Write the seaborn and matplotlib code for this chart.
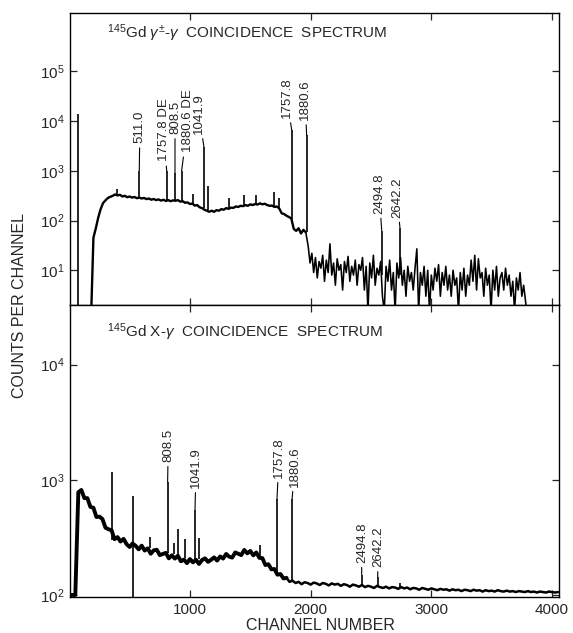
import numpy as np
import pandas as pd
import matplotlib
matplotlib.use("Agg")
import matplotlib.pyplot as plt
from matplotlib.ticker import NullLocator, FixedLocator
import seaborn as sns

# ---------------- data ----------------
# Top panel: gamma(+/-)-gamma coincidence spectrum
top_plateau_start = 180
top_plateau_step = 20
top_plateau_counts = [
    1, 45, 70, 115, 170, 225, 255, 285, 300, 315,
    335, 320, 330, 305, 315, 295, 305, 290, 298, 282,
    290, 278, 285, 270, 278, 262, 272, 258, 266, 252,
    262, 248, 258, 245, 255, 250, 258, 240, 245, 228,
    232, 215, 220, 200, 205, 185, 178, 165, 158, 150,
    158, 150, 162, 158, 170, 165, 178, 172, 182, 180,
    192, 188, 198, 195, 205, 198, 212, 205, 215, 210,
    222, 212, 218, 205, 198, 200, 188, 192, 175, 140,
    135, 125, 118, 110, 68, 62, 70, 55, 65, 58]
top_noise_start = 1980
top_noise_step = 15
top_noise_counts = [
    30, 14, 22, 9, 18, 7, 15, 11, 20, 6,
    16, 9, 34, 8, 14, 5, 17, 10, 13, 4,
    15, 9, 19, 6, 12, 8, 16, 5, 13, 10,
    18, 4, 12, 1.5, 14, 7, 20, 5, 11, 8,
    15, 3, 1.5, 12, 6, 16, 4, 9, 1.5, 14,
    7, 18, 5, 10, 3, 12, 6, 9, 4, 11,
    27, 1.5, 9, 5, 12, 3, 10, 1.5, 8, 4,
    11, 6, 13, 3, 9, 5, 12, 4, 8, 3,
    10, 5, 7, 1.5, 9, 4, 11, 3, 8, 5,
    16, 6, 20, 4, 17, 7, 9, 3, 11, 5,
    8, 1.5, 10, 4, 12, 3, 7, 9, 4, 11,
    5, 8, 3, 6, 1.5, 7, 4, 9, 3, 5,
    2.5, 1.0]
top_tail_ch = [3810, 4060]
top_tail_counts = [1, 1]

top_peak_ch = [70, 395, 580, 807, 876, 931, 1023, 1116, 1150, 1323, 1447,
               1550, 1697, 1740, 1843, 1967, 2589, 2740]
top_peak_top = [14000, 440, 1000, 1000, 900, 1000, 350, 3000, 500, 280, 330,
                320, 370, 280, 6600, 5200, 63, 72]
top_peak_base = [1, 320, 285, 250, 250, 245, 215, 175, 160, 175, 195,
                 210, 190, 175, 110, 58, 8, 8]

top_labels = ["511.0", "1757.8 DE", "808.5", "1880.6 DE", "1041.9",
              "1757.8", "1880.6", "2494.8", "2642.2"]
top_label_peak = [2, 3, 4, 5, 7, 14, 15, 16, 17]
top_label_ch = [585, 785, 876, 984, 1075, 1804, 1953, 2567, 2715]
top_label_y = [3600, 1550, 5500, 2360, 5500, 11500, 10500, 138, 115]

# Bottom panel: X-gamma coincidence spectrum
bot_start = 0
bot_step = 25
bot_counts = [
    100, 100, 100, 780, 816, 694, 693, 582, 572, 475,
    479, 456, 384, 372, 365, 305, 318, 291, 307, 276,
    261, 280, 267, 249, 268, 243, 254, 228, 244, 247,
    222, 227, 232, 208, 221, 207, 219, 196, 203, 189,
    205, 192, 202, 186, 201, 208, 194, 202, 212, 199,
    216, 207, 227, 215, 211, 234, 228, 222, 246, 230,
    241, 221, 234, 210, 209, 182, 185, 167, 168, 150,
    152, 139, 141, 130, 133, 127, 130,
    124, 129, 127, 123, 128, 126, 122, 127, 125, 121,
    126, 123, 125, 120, 124, 122, 118, 123, 121, 118,
    122, 117, 120, 118, 115, 120, 117, 115, 118, 114,
    117, 116, 113, 117, 114, 116, 112, 115, 114, 111,
    115, 113, 111, 114, 112, 110, 113, 111, 112, 109,
    112, 110, 111, 108, 111, 110, 108, 111, 109, 110,
    107, 110, 108, 109, 107, 110, 108, 107, 109, 107,
    108, 106, 108, 107, 106, 108, 106, 107, 105, 107,
    106, 105, 107, 106, 105, 106]
bot_thick_until = 1800   # noisier (thicker) part of the trace

bot_peak_ch = [351, 531, 669, 815, 868, 903, 959, 1042, 1075, 1580, 1721,
               1846, 2423, 2556, 2740]
bot_peak_top = [1170, 725, 320, 950, 283, 375, 307, 550, 313, 270, 680,
                680, 150, 143, 127]
bot_peak_base = [300, 90, 255, 230, 225, 220, 210, 205, 205, 220, 150,
                 130, 120, 118, 114]

bot_labels = ["808.5", "1041.9", "1757.8", "1880.6", "2494.8", "2642.2"]
bot_label_peak = [3, 7, 10, 11, 12, 13]
bot_label_ch = [820, 1050, 1738, 1870, 2425, 2558]
bot_label_y = [1435, 850, 1040, 870, 190, 175]

x_ticks = [1000, 2000, 3000, 4000]
top_y_ticks = [1e1, 1e2, 1e3, 1e4, 1e5]
bot_y_ticks = [1e2, 1e3, 1e4]

top_title = r"$^{145}$Gd $\gamma^{\pm}$-$\gamma$  COINCIDENCE  SPECTRUM"
bot_title = r"$^{145}$Gd X-$\gamma$  COINCIDENCE  SPECTRUM"

# ---------------- build tables ----------------
top_plateau_df = pd.DataFrame({
    "channel": top_plateau_start + top_plateau_step * np.arange(len(top_plateau_counts)),
    "counts": np.array(top_plateau_counts, dtype=float)})
top_noise_df = pd.DataFrame({
    "channel": np.concatenate([
        [top_plateau_start + top_plateau_step * (len(top_plateau_counts) - 1)],
        top_noise_start + top_noise_step * np.arange(len(top_noise_counts)),
        np.array(top_tail_ch)]),
    "counts": np.concatenate([[top_plateau_counts[-1]], top_noise_counts,
                              top_tail_counts])})
bot_df = pd.DataFrame({
    "channel": bot_start + bot_step * np.arange(len(bot_counts)),
    "counts": np.array(bot_counts, dtype=float),
})
bot_a = bot_df[bot_df.channel <= bot_thick_until]
bot_b = bot_df[bot_df.channel >= bot_thick_until]

# ---------------- style ----------------
sns.set_style("ticks")
plt.rcParams['font.family'] = ['Liberation Sans', 'DejaVu Sans']
plt.rcParams['mathtext.fontset'] = 'custom'
plt.rcParams['mathtext.rm'] = 'Liberation Sans'
plt.rcParams['mathtext.it'] = 'Liberation Sans:italic'
plt.rcParams['mathtext.bf'] = 'Liberation Sans:bold'
plt.rcParams['axes.linewidth'] = 1.0

W, H = 573, 633
fig = plt.figure(figsize=(W / 100, H / 100), dpi=100)
ax1 = fig.add_axes([70 / W, 1 - 305 / H, 489 / W, 292 / H])
ax2 = fig.add_axes([70 / W, 1 - 597 / H, 489 / W, 292 / H], sharex=ax1)

def draw(ax, segments, pch, ptop, pbase, labels, lpeak, lch, ly):
    for df, lw in segments:
        sns.lineplot(data=df, x="channel", y="counts", ax=ax, color="black",
                     lw=lw, estimator=None, sort=False)
    ax.vlines(pch, pbase, ptop, color="black", lw=1.2)
    for txt, i, cx, cy in zip(labels, lpeak, lch, ly):
        ax.annotate(txt, xy=(pch[i], ptop[i]), xytext=(cx, cy),
                    rotation=90, ha="center", va="bottom", fontsize=9.5,
                    arrowprops=dict(arrowstyle="-", lw=0.8, color="black",
                                    shrinkA=1, shrinkB=0))
    ax.set_yscale("log")
    ax.set_xlabel("")
    ax.set_ylabel("")

draw(ax1, [(top_plateau_df, 1.7), (top_noise_df, 1.15)],
     top_peak_ch, top_peak_top, top_peak_base,
     top_labels, top_label_peak, top_label_ch, top_label_y)
draw(ax2, [(bot_a, 2.8), (bot_b, 1.8)],
     bot_peak_ch, bot_peak_top, bot_peak_base,
     bot_labels, bot_label_peak, bot_label_ch, bot_label_y)

ax1.set_xlim(6, 4058)
ax1.set_ylim(2, 1.5e6)
ax2.set_ylim(96, 3.3e4)

for ax, yt in ((ax1, top_y_ticks), (ax2, bot_y_ticks)):
    ax.yaxis.set_major_locator(FixedLocator(yt))
    ax.yaxis.set_minor_locator(NullLocator())
    ax.xaxis.set_major_locator(FixedLocator(x_ticks))
    ax.xaxis.set_minor_locator(NullLocator())
    ax.tick_params(direction="in", which="both", top=True, right=True,
                   length=5, width=0.9, labelsize=11, pad=4)
    for s in ax.spines.values():
        s.set_visible(True)
        s.set_color("black")
ax1.tick_params(labelbottom=False)

ax1.text(0.076, 0.932, top_title, transform=ax1.transAxes, ha="left",
         va="center", fontsize=11)
ax2.text(0.076, 0.908, bot_title, transform=ax2.transAxes, ha="left",
         va="center", fontsize=11)

fig.text(20 / W, 1 - 305 / H, "COUNTS PER CHANNEL", rotation=90,
         ha="center", va="center", fontsize=11.5)
fig.text(320 / W, 1 - 625 / H, "CHANNEL NUMBER", ha="center", va="center",
         fontsize=11.5)

fig.savefig("out.png", dpi=100, facecolor="white")
